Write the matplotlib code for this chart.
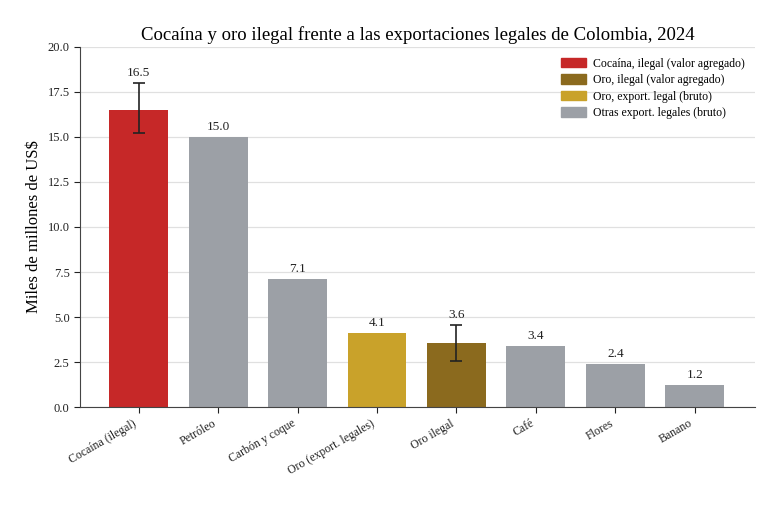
import matplotlib
matplotlib.use("Agg")
import matplotlib.pyplot as plt
from matplotlib.patches import Patch
import numpy as np

# data (miles de millones de US$)
categories = ["Cocaína (ilegal)", "Petróleo", "Carbón y coque", "Oro (export. legales)",
              "Oro ilegal", "Café", "Flores", "Banano"]
values = [16.5, 15.0, 7.1, 4.1, 3.55, 3.4, 2.4, 1.2]
labels = ["16.5", "15.0", "7.1", "4.1", "3.6", "3.4", "2.4", "1.2"]
err_low = [1.3, 0, 0, 0, 1.0, 0, 0, 0]
err_high = [1.5, 0, 0, 0, 1.0, 0, 0, 0]
kinds = ["coca", "legal", "legal", "oro_legal", "oro_ilegal", "legal", "legal", "legal"]

RED = "#C62828"
BROWN = "#8B6A1E"
GOLD = "#C9A22A"
GRAY = "#9CA0A6"
colors = {"coca": RED, "oro_ilegal": BROWN, "oro_legal": GOLD, "legal": GRAY}

plt.rcParams["font.family"] = ["Liberation Serif", "DejaVu Serif"]

fig = plt.figure(figsize=(7.8, 5.05), dpi=100)
ax = fig.add_axes([0.1026, 0.194, 0.8654, 0.713])

x = np.arange(len(categories))
ax.bar(x, values, width=0.74, color=[colors[k] for k in kinds], zorder=2)

has_err = [i for i in range(len(values)) if err_low[i] or err_high[i]]
ax.errorbar([x[i] for i in has_err], [values[i] for i in has_err],
            yerr=[[err_low[i] for i in has_err], [err_high[i] for i in has_err]],
            fmt="none", ecolor="#222222", elinewidth=1.2, capsize=4, capthick=1.2, zorder=3)

for i, v in enumerate(values):
    top = v + err_high[i]
    ax.annotate(labels[i], (x[i], top), xytext=(0, 3), textcoords="offset points",
                ha="center", va="bottom", fontsize=9.5, color="#222222")

ax.set_xlim(-0.74, 7.76)
ax.set_ylim(0, 20)
ax.set_yticks(np.arange(0, 20.1, 2.5))
ax.set_yticklabels([f"{t:.1f}" for t in np.arange(0, 20.1, 2.5)], fontsize=9)
ax.set_xticks(x)
ax.set_xticklabels(categories, rotation=30, ha="right", fontsize=8.5)

ax.yaxis.grid(True, color="#E0E0E0", linewidth=0.9, zorder=0)
ax.set_axisbelow(True)
for s in ["top", "right"]:
    ax.spines[s].set_visible(False)
for s in ["left", "bottom"]:
    ax.spines[s].set_color("#444444")
ax.tick_params(colors="#222222", length=4)

ax.set_ylabel("Miles de millones de US$", fontsize=12)
ax.set_title("Cocaína y oro ilegal frente a las exportaciones legales de Colombia, 2024",
             fontsize=13.5, pad=5)

handles = [Patch(color=RED, label="Cocaína, ilegal (valor agregado)"),
           Patch(color=BROWN, label="Oro, ilegal (valor agregado)"),
           Patch(color=GOLD, label="Oro, export. legal (bruto)"),
           Patch(color=GRAY, label="Otras export. legales (bruto)")]
ax.legend(handles=handles, loc="upper right", frameon=False, fontsize=8.5,
          handlelength=2.1, handleheight=0.9, labelspacing=0.38, handletextpad=0.6,
          bbox_to_anchor=(1.0, 1.0))

fig.savefig("out.png", dpi=100)
